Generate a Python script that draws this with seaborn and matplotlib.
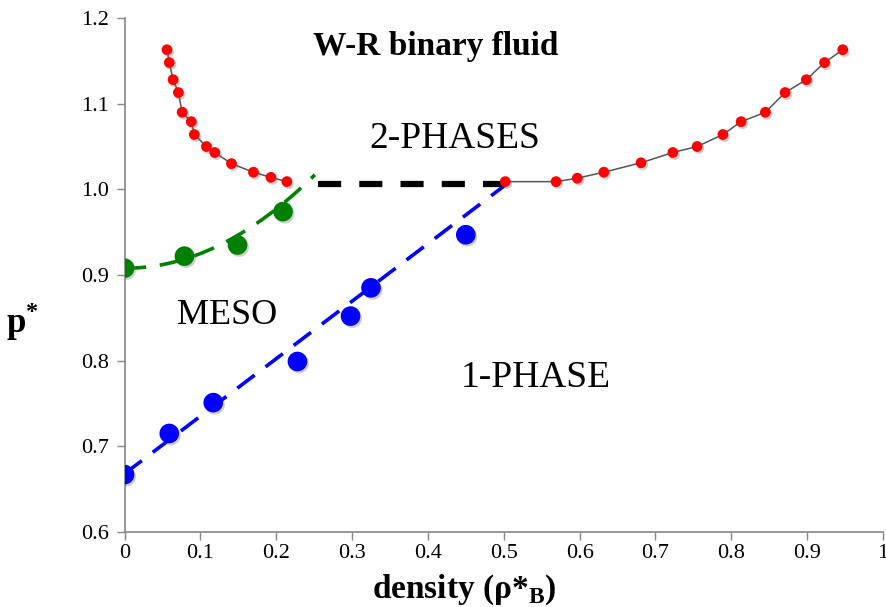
import numpy as np
import pandas as pd
import matplotlib.pyplot as plt
import matplotlib.patheffects as pe
import seaborn as sns

# red coexistence curve, left and right branches
left_x = [0.056, 0.059, 0.064, 0.071, 0.076, 0.088, 0.092, 0.108, 0.119, 0.141, 0.170, 0.193, 0.214]
left_y = [1.163, 1.148, 1.128, 1.113, 1.090, 1.079, 1.064, 1.050, 1.043, 1.030, 1.020, 1.014, 1.009]
right_x = [0.502, 0.569, 0.597, 0.632, 0.681, 0.723, 0.755, 0.789, 0.813, 0.845, 0.871, 0.899, 0.923, 0.947]
right_y = [1.009, 1.009, 1.013, 1.020, 1.031, 1.043, 1.050, 1.064, 1.079, 1.090, 1.113, 1.128, 1.148, 1.163]

# green (meso) and blue (1-phase limit) points
green_x = [0.0, 0.079, 0.149, 0.209]
green_y = [0.908, 0.922, 0.935, 0.974]
blue_x = [0.0, 0.059, 0.117, 0.228, 0.298, 0.325, 0.450]
blue_y = [0.667, 0.715, 0.751, 0.799, 0.852, 0.885, 0.947]

# dashed guide lines
green_trend_x = [0.0, 0.08, 0.145, 0.214, 0.251]
green_trend_y = [0.908, 0.919, 0.943, 0.989, 1.016]
blue_trend_x = [0.0, 0.505]
blue_trend_y = [0.668, 1.007]
black_x = [0.255, 0.502]
black_y = [1.006, 1.006]

sns.set_theme(style="white")
plt.rcParams['font.family'] = ['Liberation Serif', 'DejaVu Serif']
plt.rcParams['mathtext.fontset'] = 'custom'
plt.rcParams['mathtext.rm'] = 'Liberation Serif'
plt.rcParams['mathtext.bf'] = 'Liberation Serif:bold'
plt.rcParams['text.color'] = 'black'
plt.rcParams['axes.labelcolor'] = 'black'

fig = plt.figure(figsize=(8.87, 6.07), dpi=100)
ax = fig.add_axes([0.1404, 0.1236, 0.855, 0.8467])

shadow = [pe.SimplePatchShadow(offset=(1.2, -1.5), shadow_rgbFace='#777777', alpha=0.35),
          pe.Normal()]

# guide lines
c = np.polyfit(green_trend_x, green_trend_y, 2)
gx = np.linspace(green_trend_x[0], green_trend_x[-1], 60)
gfit = pd.DataFrame({'x': gx, 'y': np.polyval(c, gx)})
sns.lineplot(data=gfit, x='x', y='y', ax=ax, color='#008000', lw=2.6,
             linestyle=(0, (6, 3.8)), sort=False)
sns.lineplot(x=blue_trend_x, y=blue_trend_y, ax=ax, color='#0000ff', lw=2.6,
             linestyle=(0, (6, 3.8)), sort=False)
sns.lineplot(x=black_x, y=black_y, ax=ax, color='black', lw=4.5,
             linestyle=(0, (3.7, 2.9)), sort=False)

# red binodal
for bx, by in [(left_x, left_y), (right_x, right_y)]:
    sns.lineplot(x=bx, y=by, ax=ax, color='#555555', lw=1.1, sort=False)
    sns.scatterplot(x=bx, y=by, ax=ax, color='#ff0000', s=60, edgecolor='none',
                    zorder=4, path_effects=shadow)

sns.scatterplot(x=green_x, y=green_y, ax=ax, color='#008000', s=200,
                edgecolor='none', zorder=4, path_effects=shadow)
sns.scatterplot(x=blue_x, y=blue_y, ax=ax, color='#0000ff', s=200,
                edgecolor='none', zorder=4, path_effects=shadow)

ax.set_xlim(0, 1)
ax.set_ylim(0.6, 1.2)
ax.set_xticks(np.arange(0, 1.01, 0.1))
ax.set_xticklabels(['0', '0.1', '0.2', '0.3', '0.4', '0.5', '0.6', '0.7', '0.8', '0.9', '1'])
ax.set_yticks(np.arange(0.6, 1.21, 0.1))
ax.set_yticklabels(['0.6', '0.7', '0.8', '0.9', '1.0', '1.1', '1.2'])
ax.tick_params(axis='both', which='major', labelsize=16, length=6, width=1,
               color='#868686', labelcolor='black', direction='out',
               left=True, bottom=True, pad=5)
ax.tick_params(axis='x', pad=3)
for s in ['top', 'right']:
    ax.spines[s].set_visible(False)
for s in ['left', 'bottom']:
    ax.spines[s].set_color('#868686')
    ax.spines[s].set_linewidth(1.2)

ax.set_xlabel(r'density (ρ*$_\mathbf{B}$)', fontsize=24, fontweight='bold')
ax.xaxis.set_label_coords(0.448, -0.078)
ax.set_ylabel(r'p$^\mathbf{*}$', fontsize=25, fontweight='bold', rotation=0, va='center')
ax.yaxis.set_label_coords(-0.135, 0.41)

ax.text(0.41, 1.167, 'W-R binary fluid', fontsize=24, fontweight='bold', ha='center', va='center')
ax.text(0.435, 1.059, '2-PHASES', fontsize=27, ha='center', va='center')
ax.text(0.135, 0.853, 'MESO', fontsize=26, ha='center', va='center')
ax.text(0.542, 0.780, '1-PHASE', fontsize=27, ha='center', va='center')

fig.savefig('out.png', dpi=100)
